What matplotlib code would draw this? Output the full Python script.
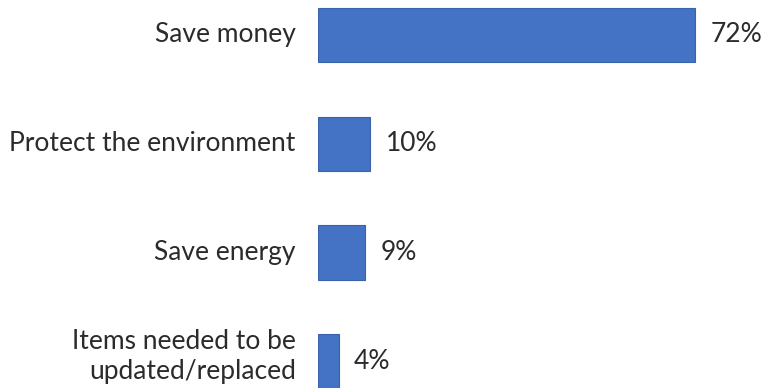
import matplotlib.pyplot as plt

labels = ["Save money", "Protect the environment", "Save energy",
          "Items needed to be\nupdated/replaced"]
values = [72, 10, 9, 4]
value_labels = ["72%", "10%", "9%", "4%"]

fig = plt.figure(figsize=(7.61, 3.88), dpi=100)
ax = fig.add_axes([318 / 761, 0, 1 - 318 / 761, 1])

pos = list(range(len(values)))
ax.barh(pos, values, height=0.5, color="#4472C4", edgecolor="#3A63AD", linewidth=0.8)

ax.set_xlim(0, 84.6)
ax.set_ylim(3.248, -0.322)

font = "Lato"
txt_color = "#2b2b2b"
for p, v, t in zip(pos, values, value_labels):
    ax.text(v + 2.9, p, t, va="center", ha="left", fontsize=19,
            color=txt_color, family=font)

# category labels, right aligned left of the bars
for p, lab in zip(pos, labels):
    dy = 3 if "\n" in lab else 0
    ax.annotate(lab, xy=(0, p), xytext=(-16, dy), textcoords="offset points",
                ha="right", va="center", fontsize=19, color=txt_color,
                family=font, linespacing=1.25, annotation_clip=False)

ax.set_xticks([])
ax.set_yticks([])
for s in ax.spines.values():
    s.set_visible(False)

fig.savefig("out.png", dpi=100)
